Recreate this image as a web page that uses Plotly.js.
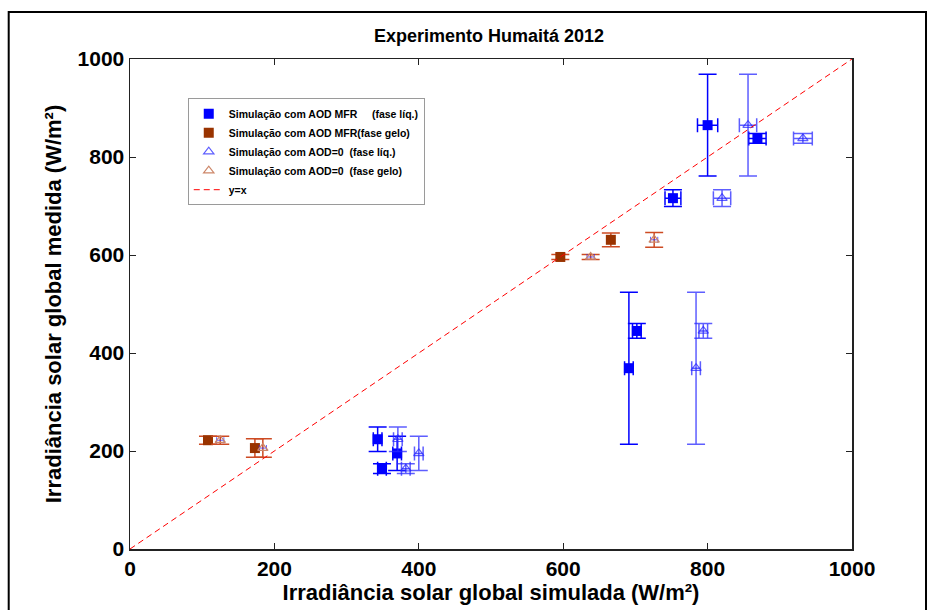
<!DOCTYPE html>
<html>
<head>
<meta charset="utf-8">
<script src="https://cdn.plot.ly/plotly-3.0.1.min.js"></script>
<style>
  html, body { margin: 0; padding: 0; background: #ffffff; }
  #chart { width: 928px; height: 610px; }
</style>
</head>
<body>
<div id="chart"></div>
<script>
// Simulação com AOD MFR (fase líquida)
const mfrLiqX      = [800, 869, 752, 702, 691, 343, 370, 349];
const mfrLiqY      = [865, 838, 716, 445, 369, 224, 195, 164];
const mfrLiqErrY   = [104, 10, 17, 15, 155, 25, 35, 10];
const mfrLiqErrX   = [14, 12, 11, 6, 6, 6, 6, 6];

// Simulação com AOD=0 (fase líquida)
const aod0LiqX     = [856, 932, 820, 794, 784, 371, 400, 382];
const aod0LiqY     = [865, 838, 716, 445, 369, 224, 195, 164];
const aod0LiqErrY  = [104, 10, 17, 15, 155, 25, 35, 10];
const aod0LiqErrX  = [12, 13, 12, 6, 6, 6, 6, 6];

// Simulação com AOD MFR (fase gelo)
const mfrGeloX     = [108, 173, 596, 666];
const mfrGeloY     = [222, 206, 596, 631];
const mfrGeloErrY  = [8, 19, 5, 14];
const mfrGeloErrX  = [5, 5, 5, 5];

// Simulação com AOD=0 (fase gelo)
const aod0GeloX    = [125, 184, 638, 726];
const aod0GeloY    = [222, 206, 596, 631];
const aod0GeloErrY = [8, 19, 5, 15];
const aod0GeloErrX = [5, 5, 5, 5];

// Reta de referência y = x
const refX = [0, 1000];
const refY = [0, 1000];

const tickVals = [0, 200, 400, 600, 800, 1000];

const blue = 'rgb(0,0,255)';
const blueSoft = 'rgba(40,40,255,0.75)';
const brown = 'rgb(153,51,0)';
const brownBar = 'rgb(205,75,35)';
const brownSoft = 'rgb(205,135,105)';

const nb = '\u00a0';

const traces = [
  {
    x: mfrLiqX, y: mfrLiqY, type: 'scatter', mode: 'markers',
    name: 'Simulação com AOD MFR' + nb.repeat(5) + '(fase líq.)',
    marker: { symbol: 'square', size: 10, color: blue },
    error_y: { type: 'data', array: mfrLiqErrY, color: blue, thickness: 1.5, width: 9 },
    error_x: { type: 'data', array: mfrLiqErrX, color: blue, thickness: 1.5, width: 7 }
  },
  {
    x: mfrGeloX, y: mfrGeloY, type: 'scatter', mode: 'markers',
    name: 'Simulação com AOD MFR(fase gelo)',
    marker: { symbol: 'square', size: 10, color: brown },
    error_y: { type: 'data', array: mfrGeloErrY, color: brownBar, thickness: 1.5, width: 9 },
    error_x: { type: 'data', array: mfrGeloErrX, color: blueSoft, thickness: 1, width: 3 }
  },
  {
    x: aod0LiqX, y: aod0LiqY, type: 'scatter', mode: 'markers',
    name: 'Simulação com AOD=0' + nb.repeat(2) + '(fase líq.)',
    marker: { symbol: 'triangle-up-open', size: 9, color: blueSoft, line: { width: 1.2 } },
    error_y: { type: 'data', array: aod0LiqErrY, color: blueSoft, thickness: 1.5, width: 9 },
    error_x: { type: 'data', array: aod0LiqErrX, color: blueSoft, thickness: 1.5, width: 7 }
  },
  {
    x: aod0GeloX, y: aod0GeloY, type: 'scatter', mode: 'markers',
    name: 'Simulação com AOD=0' + nb.repeat(2) + '(fase gelo)',
    marker: { symbol: 'triangle-up-open', size: 9, color: brownSoft, line: { width: 1.2 } },
    error_y: { type: 'data', array: aod0GeloErrY, color: brownBar, thickness: 1.5, width: 9 },
    error_x: { type: 'data', array: aod0GeloErrX, color: blueSoft, thickness: 1, width: 3 }
  },
  {
    x: refX, y: refY, type: 'scatter', mode: 'lines',
    name: 'y=x',
    line: { color: 'rgb(255,0,0)', width: 1, dash: '6px,4px' }
  }
];

const axisFont = { family: 'Liberation Sans, Arial, sans-serif', size: 21, color: '#000000', weight: 'bold' };
const titleFont = { family: 'Liberation Sans, Arial, sans-serif', size: 22, color: '#000000', weight: 'bold' };

const layout = {
  width: 928, height: 610,
  margin: { l: 130, r: 76, t: 59, b: 61 },
  paper_bgcolor: '#ffffff', plot_bgcolor: '#ffffff',
  showlegend: true,
  title: {
    text: 'Experimento Humaitá 2012',
    font: { family: 'Liberation Sans, Arial, sans-serif', size: 18, color: '#000000', weight: 'bold' },
    x: 0.527, xanchor: 'center', y: 0.942, yanchor: 'middle'
  },
  xaxis: {
    range: [0, 1000], tickvals: tickVals, ticktext: tickVals.map(String),
    showgrid: false, zeroline: false,
    showline: true, linecolor: '#222222', linewidth: 1.5, mirror: 'ticks',
    ticks: 'inside', ticklen: 6, tickcolor: '#222222', tickwidth: 1,
    tickfont: axisFont,
    title: { text: 'Irradiância solar global simulada (W/m²)', font: titleFont, standoff: 0 }
  },
  yaxis: {
    range: [0, 1000], tickvals: tickVals, ticktext: tickVals.map(String),
    showgrid: false, zeroline: false,
    showline: true, linecolor: '#222222', linewidth: 1.5, mirror: 'ticks',
    ticks: 'inside', ticklen: 6, tickcolor: '#222222', tickwidth: 1,
    tickfont: axisFont,
    title: { text: 'Irradiância solar global medida (W/m²)', font: titleFont, standoff: 10 }
  },
  legend: {
    x: 0.08, y: 0.92, xanchor: 'left', yanchor: 'top',
    bgcolor: '#ffffff', bordercolor: '#9a9a9a', borderwidth: 1,
    font: { family: 'Liberation Sans, Arial, sans-serif', size: 10.5, color: '#000000', weight: 'bold' },
    tracegroupgap: 0
  },
  shapes: [
    {
      type: 'rect', xref: 'paper', yref: 'paper',
      x0: -0.168, x1: 1.1025, y0: -0.16, y1: 1.096,
      line: { color: '#000000', width: 2 }, fillcolor: 'rgba(0,0,0,0)'
    }
  ]
};

Plotly.newPlot('chart', traces, layout, { displayModeBar: false, staticPlot: true });
</script>
</body>
</html>
